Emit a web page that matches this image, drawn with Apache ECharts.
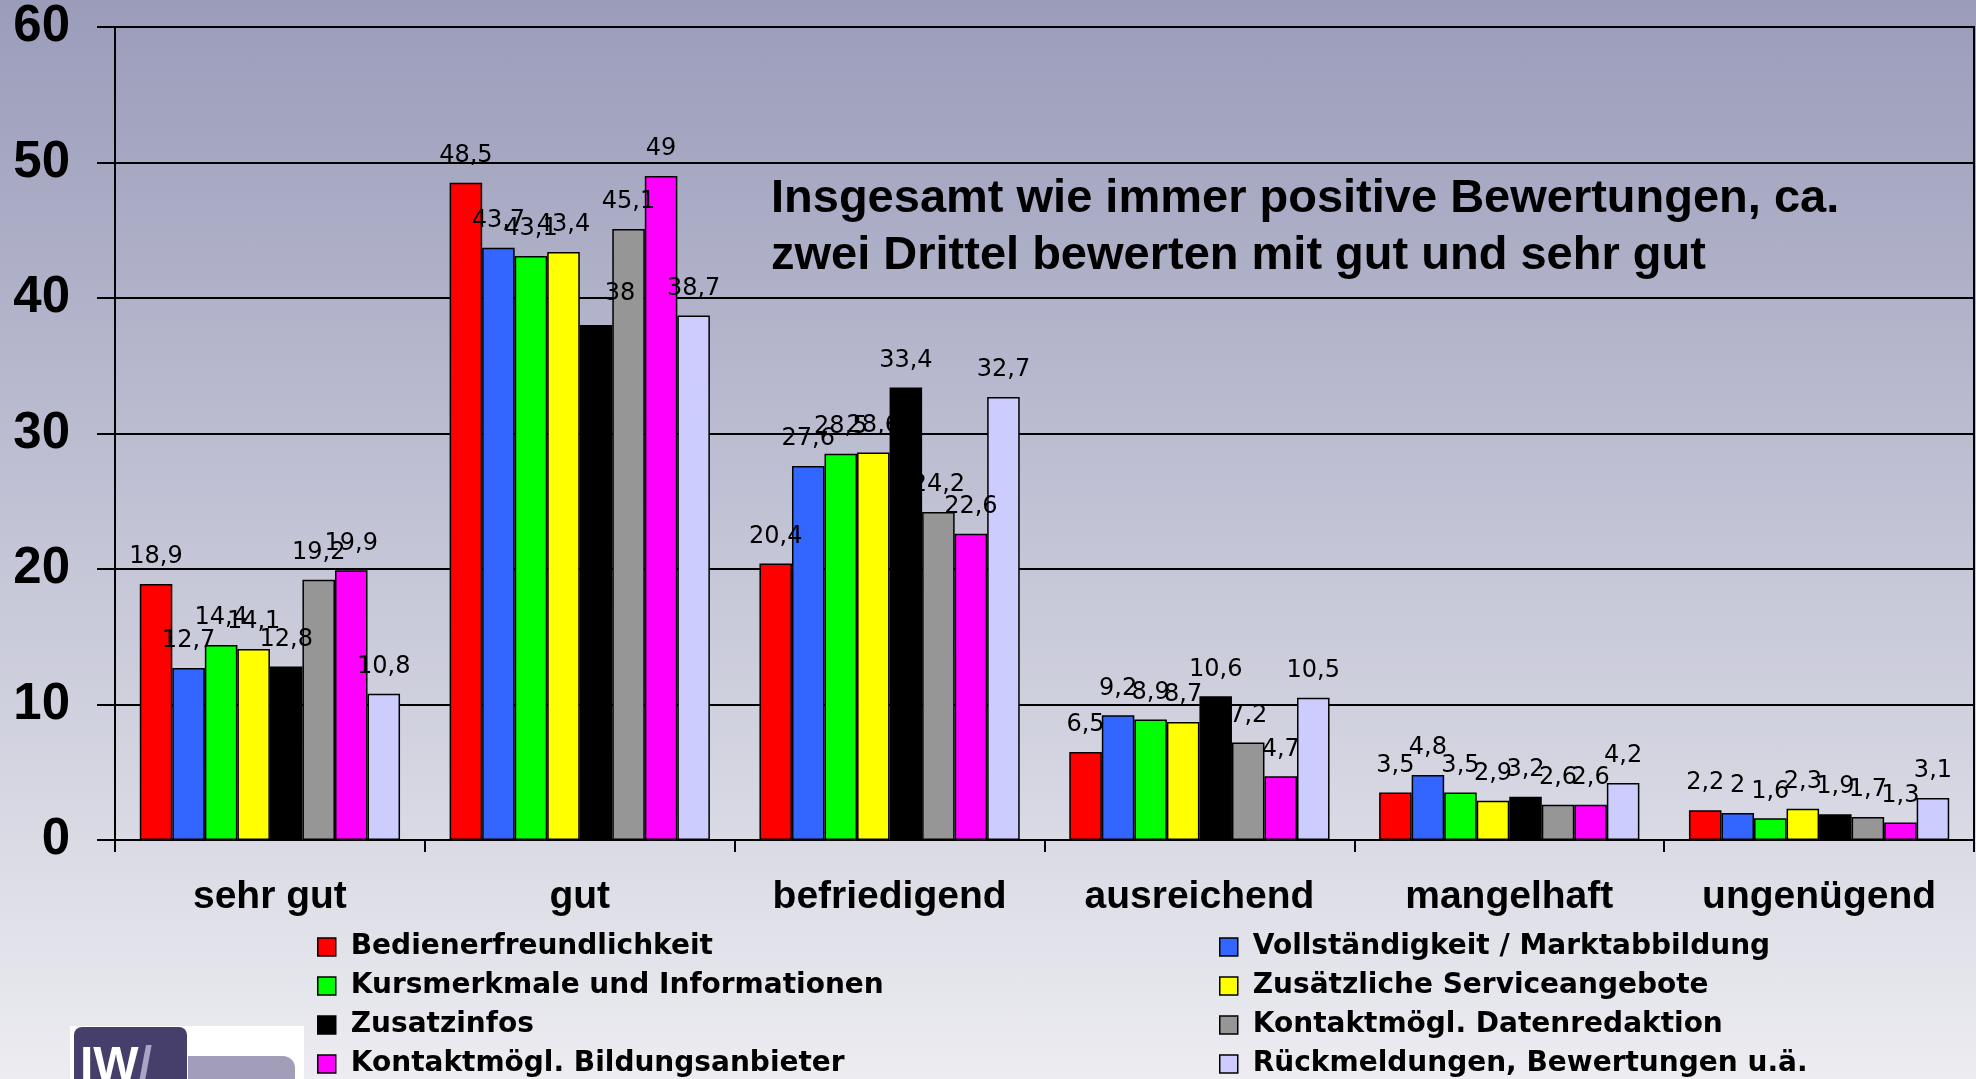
<!DOCTYPE html>
<html>
<head>
    <meta charset="utf-8">
    <title>Bewertungen</title>
    <style>
        html, body { margin: 0; padding: 0; }
        #chart {
            width: 1976px;
            height: 1079px;
            background: linear-gradient(to bottom, #9a9cba 0%, #ececf1 100%);
        }
    </style>
</head>
<body>
<script src="https://cdn.jsdelivr.net/npm/echarts/dist/echarts.min.js"></script>
<div id="chart"></div>
<script>
    // Kategorien (x-Achse)
    var categories = ['sehr gut', 'gut', 'befriedigend', 'ausreichend', 'mangelhaft', 'ungenügend'];
    var yTicks = [0, 10, 20, 30, 40, 50, 60];

    // Werte je Merkmal, in Reihenfolge der Kategorien
    var bedienerfreundlichkeit = [18.9, 48.5, 20.4, 6.5, 3.5, 2.2];
    var vollstaendigkeit       = [12.7, 43.7, 27.6, 9.2, 4.8, 2];
    var kursmerkmale           = [14.4, 43.1, 28.5, 8.9, 3.5, 1.6];
    var serviceangebote        = [14.1, 43.4, 28.6, 8.7, 2.9, 2.3];
    var zusatzinfos            = [12.8, 38, 33.4, 10.6, 3.2, 1.9];
    var datenredaktion         = [19.2, 45.1, 24.2, 7.2, 2.6, 1.7];
    var bildungsanbieter       = [19.9, 49, 22.6, 4.7, 2.6, 1.3];
    var rueckmeldungen         = [10.8, 38.7, 32.7, 10.5, 4.2, 3.1];

    var seriesNames = [
        'Bedienerfreundlichkeit',
        'Vollständigkeit / Marktabbildung',
        'Kursmerkmale und Informationen',
        'Zusätzliche Serviceangebote',
        'Zusatzinfos',
        'Kontaktmögl. Datenredaktion',
        'Kontaktmögl. Bildungsanbieter',
        'Rückmeldungen, Bewertungen u.ä.'
    ];
    var seriesValues = [bedienerfreundlichkeit, vollstaendigkeit, kursmerkmale, serviceangebote,
        zusatzinfos, datenredaktion, bildungsanbieter, rueckmeldungen];
    var colors = ['#ff0000', '#3366ff', '#00ff00', '#ffff00', '#000000', '#969696', '#ff00ff', '#ccccff'];

    var annotation = ['Insgesamt wie immer positive Bewertungen, ca.',
        'zwei Drittel bewerten mit gut und sehr gut'];

    var boldSans = '"Liberation Sans", Arial, sans-serif';
    var wideSans = '"DejaVu Sans", sans-serif';

    // im Original verschobenes Datenlabel ("38" bei gut / Zusatzinfos)
    var labelShift = {'4-1': [24, -4]};

    var myChart = echarts.init(document.getElementById('chart'), null, {renderer: 'canvas'});

    var series = seriesNames.map(function (name, i) {
        return {
            name: name,
            type: 'bar',
            data: seriesValues[i].map(function (v, j) {
                var item = {value: v};
                if (labelShift[i + '-' + j]) {
                    item.label = {offset: labelShift[i + '-' + j]};
                }
                return item;
            }),
            barGap: 0,
            barCategoryGap: '16%',
            itemStyle: {
                color: colors[i],
                borderColor: '#000',
                borderWidth: 1.5
            },
            label: {
                show: true,
                position: 'top',
                distance: 15,
                color: '#000',
                fontFamily: wideSans,
                fontSize: 24,
                formatter: function (p) {
                    return String(p.value).replace('.', ',');
                }
            },
            animation: false
        };
    });

    function legendFor(names, left) {
        return {
            data: names,
            orient: 'vertical',
            left: left,
            top: 933,
            padding: 0,
            itemGap: 11,
            itemWidth: 18,
            itemHeight: 18,
            icon: 'rect',
            selectedMode: false,
            itemStyle: {borderColor: '#000', borderWidth: 1.5},
            textStyle: {
                color: '#000',
                fontFamily: wideSans,
                fontWeight: 'bold',
                fontSize: 28,
                lineHeight: 28,
                padding: [0, 0, 0, 10]
            }
        };
    }

    var option = {
        animation: false,
        grid: {
            left: 115,
            right: 2,
            top: 27,
            bottom: 239,
            show: true,
            borderColor: '#000',
            borderWidth: 2
        },
        legend: [
            legendFor([seriesNames[0], seriesNames[2], seriesNames[4], seriesNames[6]], 317),
            legendFor([seriesNames[1], seriesNames[3], seriesNames[5], seriesNames[7]], 1219)
        ],
        xAxis: {
            type: 'category',
            data: categories,
            axisLine: {lineStyle: {color: '#000', width: 2}},
            axisTick: {show: true, length: 12, lineStyle: {color: '#000', width: 2}},
            axisLabel: {
                margin: 38,
                color: '#000',
                fontFamily: boldSans,
                fontWeight: 'bold',
                fontSize: 39
            }
        },
        yAxis: {
            type: 'value',
            min: yTicks[0],
            max: yTicks[yTicks.length - 1],
            interval: 10,
            axisLine: {show: true, lineStyle: {color: '#000', width: 2}},
            axisTick: {show: true, length: 18, lineStyle: {color: '#000', width: 2}},
            splitLine: {show: true, lineStyle: {color: '#000', width: 2}},
            axisLabel: {
                margin: 45,
                color: '#000',
                fontFamily: boldSans,
                fontWeight: 'bold',
                fontSize: 51
            }
        },
        series: series,
        graphic: [
            // Hinweistext im Diagramm
            {
                type: 'text', left: 771, top: 176, z: 100,
                style: {text: annotation[0], fill: '#000', font: 'bold 47px ' + boldSans}
            },
            {
                type: 'text', left: 771, top: 233, z: 100,
                style: {text: annotation[1], fill: '#000', font: 'bold 47px ' + boldSans}
            },
            // Logo unten links
            {
                type: 'rect', z: 90,
                shape: {x: 70, y: 1026, width: 234, height: 60},
                style: {fill: '#ffffff'}
            },
            {
                type: 'rect', z: 91,
                shape: {x: 74, y: 1027, width: 113, height: 70, r: 8},
                style: {fill: '#463f6b'}
            },
            {
                type: 'rect', z: 91,
                shape: {x: 188, y: 1056, width: 107, height: 40, r: [0, 12, 0, 0]},
                style: {fill: '#a29eba'}
            },
            {
                type: 'text', z: 92, x: 80, y: 1043,
                style: {
                    text: '{a|IW}{b|/}',
                    rich: {
                        a: {fill: '#ffffff', font: 'bold 48px ' + boldSans},
                        b: {fill: '#a9a5c6', font: 'bold 48px ' + boldSans}
                    }
                }
            }
        ]
    };

    myChart.setOption(option);
</script>
</body>
</html>
